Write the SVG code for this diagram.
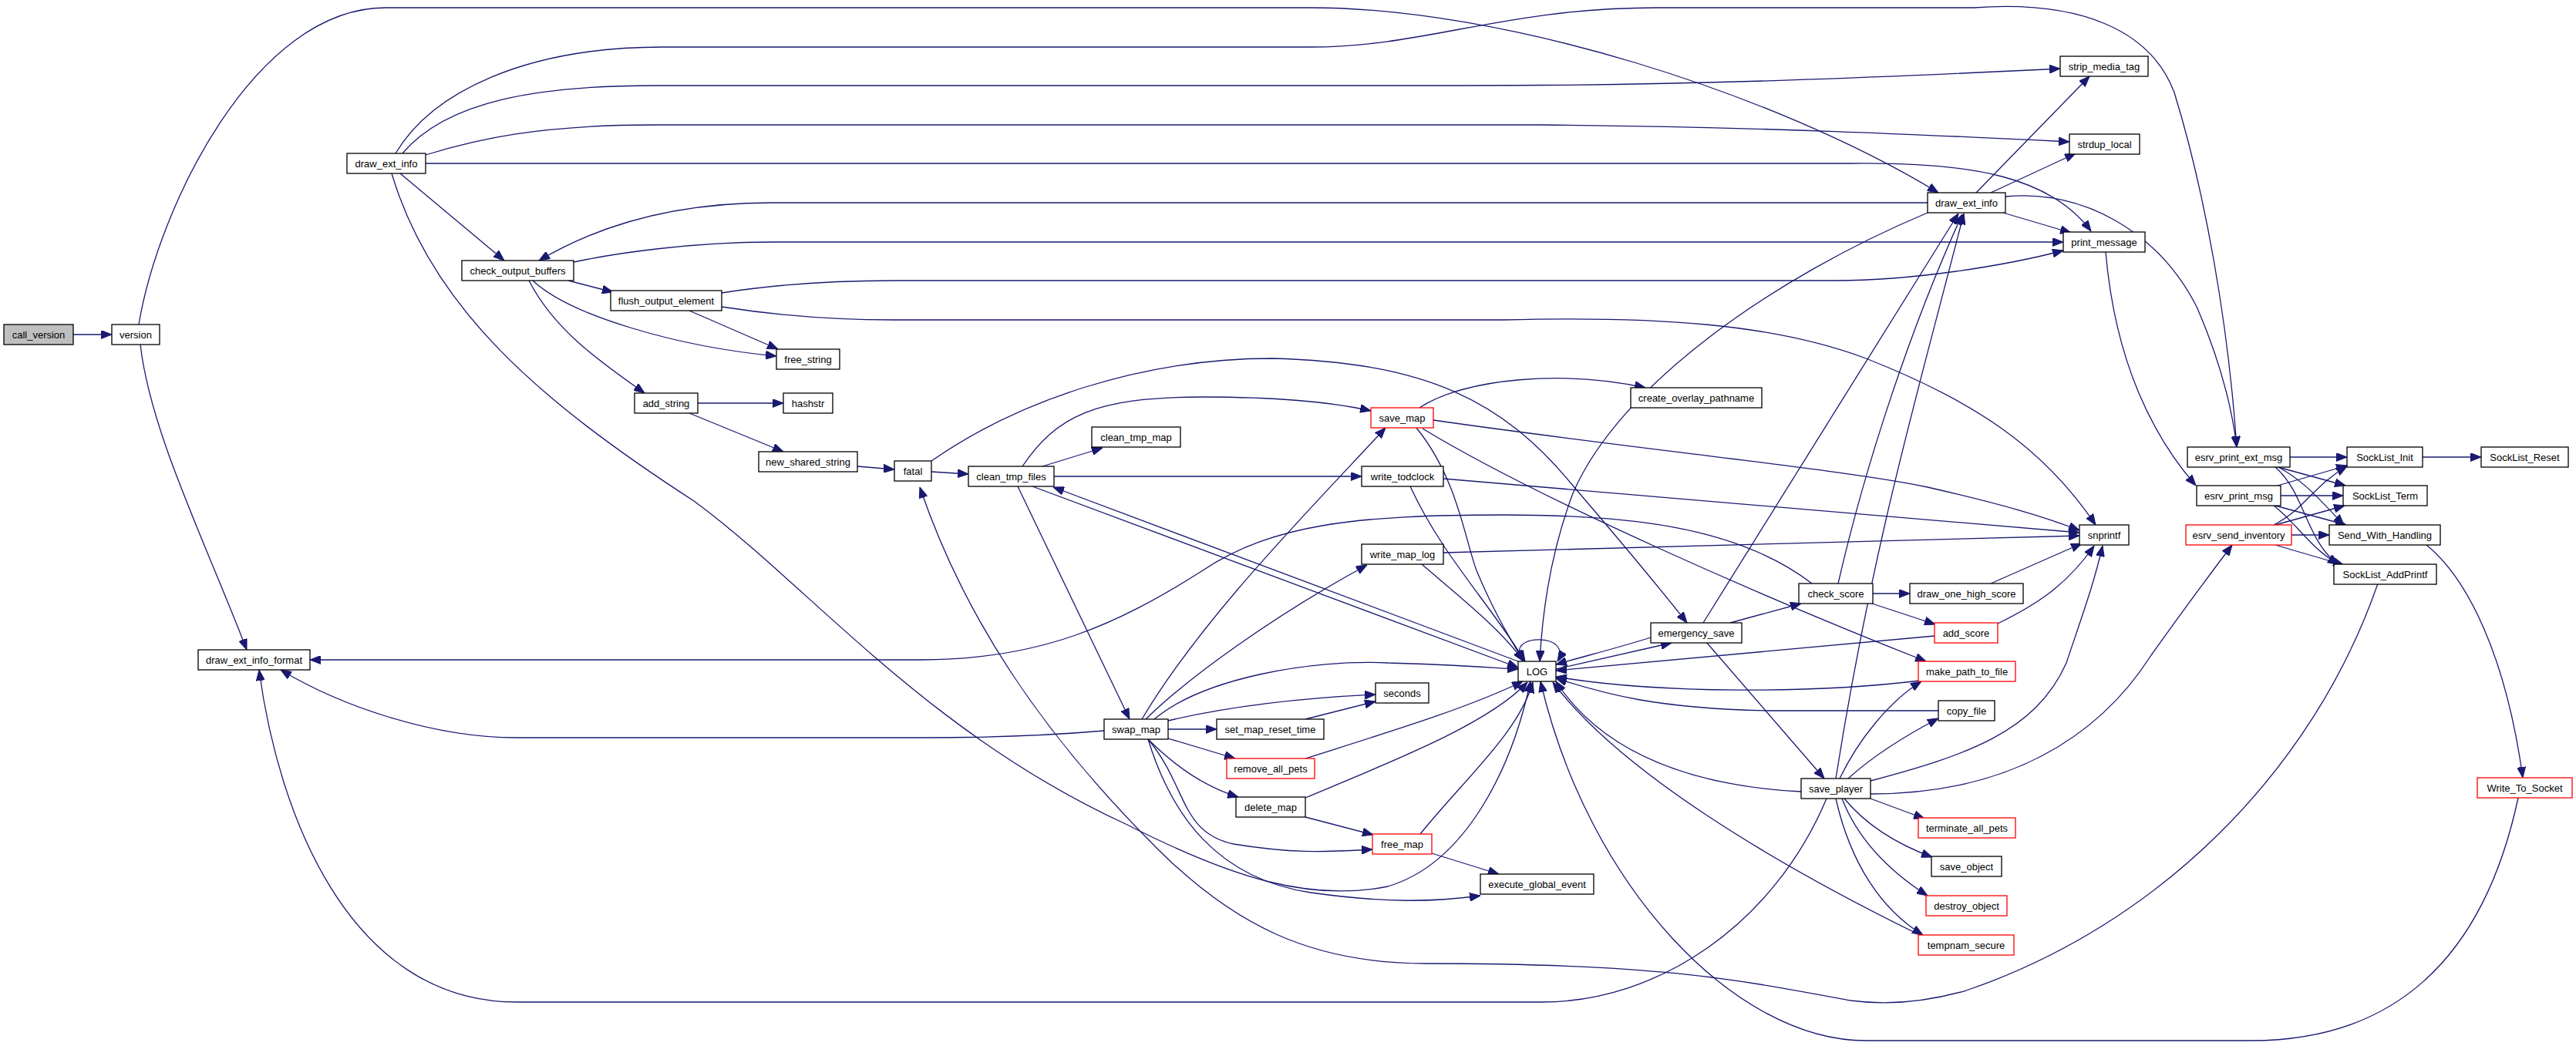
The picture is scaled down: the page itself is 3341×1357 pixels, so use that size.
<svg xmlns="http://www.w3.org/2000/svg" width="3341" height="1357" viewBox="0 0 3341 1357">
<style>
.node rect{fill:#ffffff;stroke:#000000;stroke-width:1.3}
.node.red rect{stroke:#ff0000}
.node.root rect{fill:#bfbfbf}
.node text{font-family:"Liberation Sans",Arial,sans-serif;font-size:13px;fill:#000000;text-anchor:middle}
.edges path{fill:none;stroke:#191970;stroke-width:1.3;marker-end:url(#ah)}
</style>
<defs>
<marker id="ah" markerWidth="14" markerHeight="11" refX="14" refY="5.5" orient="auto" markerUnits="userSpaceOnUse"><path d="M0,0 L14,5.5 L0,11 z" fill="#191970" stroke="#191970" stroke-width="1"/></marker>
</defs>
<rect width="3341" height="1357" fill="#ffffff"/>
<g class="edges" id="edges">
<path d="M95,434 L145,434"/>
<path d="M182,447 C195,560 265,700 320,843"/>
<path d="M180,421 C205,270 330,10 500,10 L1700,10 C1950,10 2300,120 2514,250"/>
<path d="M513,199 C560,120 680,61 860,61 L1700,61 C1850,61 1950,10 2150,10 L2560,10 C2700,0 2790,40 2820,120 C2860,250 2890,420 2901,580"/>
<path d="M522,199 C580,130 700,111 850,111 L1900,111 C2200,111 2450,100 2672,89"/>
<path d="M552,201 C620,180 700,162 850,162 L2000,162 C2300,165 2500,175 2684,184"/>
<path d="M552,212 L2400,212 C2560,210 2660,230 2712,300"/>
<path d="M519,225 L654,338"/>
<path d="M508,225 C560,400 700,520 900,650 C1050,760 1200,950 1462,1070 C1600,1140 1700,1170 1800,1150 C1900,1120 1960,1000 1985,884"/>
<path d="M1489,959 C1520,1060 1580,1140 1700,1158 C1800,1172 1860,1170 1920,1162"/>
<path d="M744,340 C800,328 900,314 1000,314 L2676,314"/>
<path d="M737,364 L795,379"/>
<path d="M691,364 C740,410 880,450 1007,462"/>
<path d="M686,364 C720,430 780,470 836,510"/>
<path d="M894,403 L1009,453"/>
<path d="M936,380 C1000,370 1080,364 1160,364 L2380,364 C2480,364 2600,345 2676,325"/>
<path d="M936,398 C1000,408 1080,415 1160,415 L1950,415 C2150,410 2300,420 2420,465 C2560,520 2650,580 2718,681"/>
<path d="M905,523 L1016,523"/>
<path d="M894,536 L1016,586"/>
<path d="M1112,605 L1160,609"/>
<path d="M1208,612 L1256,615"/>
<path d="M1208,598 C1320,520 1480,465 1650,465 C1850,470 1950,520 2040,630 C2100,700 2150,760 2188,808"/>
<path d="M1352,605 L1430,581"/>
<path d="M1367,618 L1766,618"/>
<path d="M1326,605 C1370,540 1420,515 1560,515 C1650,515 1720,520 1778,533"/>
<path d="M1320,631 L1465,933"/>
<path d="M1339,631 L1969,866"/>
<path d="M1969,858 L1366,632"/>
<path d="M1481,933 C1560,800 1700,660 1797,555"/>
<path d="M1486,933 C1540,880 1650,800 1773,733"/>
<path d="M1497,933 C1560,880 1700,855 1800,860 C1880,862 1930,866 1969,868"/>
<path d="M1515,935 C1600,915 1700,905 1784,901"/>
<path d="M1515,946 L1578,946"/>
<path d="M1515,958 L1602,984"/>
<path d="M1489,959 C1520,990 1560,1020 1606,1034"/>
<path d="M1489,959 C1540,1020 1530,1080 1600,1095 C1680,1108 1720,1105 1780,1102"/>
<path d="M1693,933 L1784,910"/>
<path d="M1693,984 C1800,950 1900,920 1975,884"/>
<path d="M1693,1035 C1800,990 1930,940 1981,885"/>
<path d="M1693,1060 L1781,1083"/>
<path d="M1842,1082 C1900,1010 1970,950 1988,885"/>
<path d="M1857,1107 L1944,1134"/>
<path d="M1837,555 C1890,620 1900,700 1915,740 C1940,800 1960,830 1976,858"/>
<path d="M1841,529 C1900,490 2030,480 2134,503"/>
<path d="M1859,545 C2100,580 2400,610 2500,632 C2600,655 2650,670 2697,688"/>
<path d="M1845,556 C2000,650 2300,780 2498,858"/>
<path d="M1829,631 C1870,720 1930,780 1978,858"/>
<path d="M1872,621 L2697,691"/>
<path d="M1844,732 C1900,780 1950,820 1976,858"/>
<path d="M1872,717 L2697,695"/>
<path d="M2500,276 C2300,360 2100,500 2040,640 C2010,720 2000,800 1997,858"/>
<path d="M2563,250 L2710,99"/>
<path d="M2582,250 L2692,199"/>
<path d="M2598,276 L2686,302"/>
<path d="M2500,263 L1000,263 C880,263 780,290 699,338"/>
<path d="M2601,255 C2700,245 2800,300 2850,400 C2880,470 2895,530 2901,580"/>
<path d="M2731,327 C2740,430 2770,540 2848,630"/>
<path d="M2970,593 L3044,593"/>
<path d="M2951,605 L3042,630"/>
<path d="M2955,606 C2990,625 3010,650 3040,681"/>
<path d="M2951,606 C2990,640 2990,700 3033,733"/>
<path d="M2954,630 L3044,604"/>
<path d="M2958,643 L3039,643"/>
<path d="M2951,656 L3043,681"/>
<path d="M2949,656 C2980,680 2995,710 3033,732"/>
<path d="M2949,681 C2990,660 3000,630 3044,605"/>
<path d="M2951,681 L3041,656"/>
<path d="M2972,694 L3021,694"/>
<path d="M2951,707 L3040,733"/>
<path d="M3142,593 L3218,593"/>
<path d="M3147,707 C3200,750 3250,850 3272,1009"/>
<path d="M3266,1035 C3220,1250 3100,1350 2920,1350 L2420,1350 C2250,1350 2060,1150 1998,884"/>
<path d="M3084,757 C3000,1000 2800,1200 2550,1285 C2480,1305 2430,1302 2400,1298 C2250,1270 2150,1250 1850,1250 C1700,1250 1600,1200 1500,1100 C1350,950 1250,800 1193,632"/>
<path d="M2369,1036 C2300,1200 2150,1300 2000,1300 L670,1300 C450,1300 360,1050 336,869"/>
<path d="M1432,948 C1350,955 1280,957 1200,957 L670,957 C560,957 440,915 364,869"/>
<path d="M2350,757 C2250,680 2100,668 1950,668 C1760,668 1650,680 1560,740 C1450,810 1350,856 1194,856 L402,856"/>
<path d="M2244,808 L2336,783"/>
<path d="M2213,833 L2366,1010"/>
<path d="M2209,808 L2540,277"/>
<path d="M2141,827 C2100,840 2060,850 2018,862"/>
<path d="M2018,868 L2168,834"/>
<path d="M2429,770 L2477,770"/>
<path d="M2428,783 L2510,810"/>
<path d="M2384,757 C2420,600 2480,420 2545,278"/>
<path d="M2582,757 L2700,705"/>
<path d="M2591,809 C2640,785 2680,760 2716,708"/>
<path d="M2509,825 L2018,870"/>
<path d="M2490,883 C2350,900 2150,900 2018,878"/>
<path d="M2514,922 L2300,922 C2150,920 2080,900 2018,880"/>
<path d="M2397,1010 C2430,980 2470,955 2514,932"/>
<path d="M2386,1010 C2410,960 2450,910 2492,884"/>
<path d="M2426,1013 C2550,980 2640,950 2680,860 C2700,800 2715,760 2727,708"/>
<path d="M2426,1030 C2600,1030 2720,960 2790,850 C2840,780 2870,740 2895,707"/>
<path d="M2336,1027 C2200,1020 2080,980 2018,884"/>
<path d="M2426,1036 L2496,1062"/>
<path d="M2392,1036 C2420,1070 2460,1095 2506,1112"/>
<path d="M2389,1036 C2410,1090 2450,1130 2500,1162"/>
<path d="M2381,1036 C2400,1120 2440,1180 2494,1213"/>
<path d="M2490,1213 C2300,1120 2100,1000 2014,885"/>
<path d="M2381,1010 C2430,700 2490,500 2547,277"/>
<path d="M1975,858 C1958,832 1992,826 2010,832 C2024,837 2026,848 2020,858"/>
</g>
<g class="node root" id="n_call_version"><rect x="5" y="421" width="90" height="26"/><text x="50" y="438.5">call_version</text></g>
<g class="node" id="n_version"><rect x="145" y="421" width="62" height="26"/><text x="176" y="438.5">version</text></g>
<g class="node" id="n_draw_ext_info_format"><rect x="257" y="843" width="145" height="26"/><text x="329.5" y="860.5">draw_ext_info_format</text></g>
<g class="node" id="n_draw_ext_info_l"><rect x="450" y="199" width="102" height="26"/><text x="501" y="216.5">draw_ext_info</text></g>
<g class="node" id="n_check_output_buffers"><rect x="599" y="338" width="145" height="26"/><text x="671.5" y="355.5">check_output_buffers</text></g>
<g class="node" id="n_flush_output_element"><rect x="792" y="377" width="144" height="26"/><text x="864" y="394.5">flush_output_element</text></g>
<g class="node" id="n_add_string"><rect x="823" y="510" width="82" height="26"/><text x="864" y="527.5">add_string</text></g>
<g class="node" id="n_free_string"><rect x="1007" y="453" width="82" height="26"/><text x="1048" y="470.5">free_string</text></g>
<g class="node" id="n_hashstr"><rect x="1016" y="510" width="64" height="26"/><text x="1048" y="527.5">hashstr</text></g>
<g class="node" id="n_new_shared_string"><rect x="984" y="586" width="128" height="26"/><text x="1048" y="603.5">new_shared_string</text></g>
<g class="node" id="n_fatal"><rect x="1160" y="598" width="48" height="26"/><text x="1184" y="615.5">fatal</text></g>
<g class="node" id="n_clean_tmp_files"><rect x="1256" y="605" width="111" height="26"/><text x="1311.5" y="622.5">clean_tmp_files</text></g>
<g class="node" id="n_clean_tmp_map"><rect x="1416" y="554" width="115" height="26"/><text x="1473.5" y="571.5">clean_tmp_map</text></g>
<g class="node" id="n_swap_map"><rect x="1432" y="933" width="83" height="26"/><text x="1473.5" y="950.5">swap_map</text></g>
<g class="node" id="n_set_map_reset_time"><rect x="1578" y="933" width="139" height="26"/><text x="1647.5" y="950.5">set_map_reset_time</text></g>
<g class="node red" id="n_remove_all_pets"><rect x="1591" y="984" width="114" height="26"/><text x="1648" y="1001.5">remove_all_pets</text></g>
<g class="node" id="n_delete_map"><rect x="1603" y="1034" width="90" height="26"/><text x="1648" y="1051.5">delete_map</text></g>
<g class="node red" id="n_save_map"><rect x="1778" y="529" width="81" height="26"/><text x="1818.5" y="546.5">save_map</text></g>
<g class="node" id="n_write_todclock"><rect x="1766" y="605" width="106" height="26"/><text x="1819" y="622.5">write_todclock</text></g>
<g class="node" id="n_write_map_log"><rect x="1766" y="706" width="106" height="26"/><text x="1819" y="723.5">write_map_log</text></g>
<g class="node" id="n_seconds"><rect x="1784" y="886" width="69" height="26"/><text x="1818.5" y="903.5">seconds</text></g>
<g class="node red" id="n_free_map"><rect x="1780" y="1082" width="77" height="26"/><text x="1818.5" y="1099.5">free_map</text></g>
<g class="node" id="n_LOG"><rect x="1969" y="858" width="49" height="26"/><text x="1993.5" y="875.5">LOG</text></g>
<g class="node" id="n_execute_global_event"><rect x="1920" y="1134" width="147" height="26"/><text x="1993.5" y="1151.5">execute_global_event</text></g>
<g class="node" id="n_create_overlay_pathname"><rect x="2115" y="503" width="170" height="26"/><text x="2200" y="520.5">create_overlay_pathname</text></g>
<g class="node" id="n_emergency_save"><rect x="2141" y="808" width="118" height="26"/><text x="2200" y="825.5">emergency_save</text></g>
<g class="node" id="n_check_score"><rect x="2333" y="757" width="96" height="26"/><text x="2381" y="774.5">check_score</text></g>
<g class="node" id="n_save_player"><rect x="2336" y="1010" width="90" height="26"/><text x="2381" y="1027.5">save_player</text></g>
<g class="node" id="n_draw_one_high_score"><rect x="2477" y="757" width="147" height="26"/><text x="2550.5" y="774.5">draw_one_high_score</text></g>
<g class="node" id="n_draw_ext_info_r"><rect x="2500" y="250" width="101" height="26"/><text x="2550.5" y="267.5">draw_ext_info</text></g>
<g class="node red" id="n_add_score"><rect x="2509" y="808" width="82" height="26"/><text x="2550" y="825.5">add_score</text></g>
<g class="node red" id="n_make_path_to_file"><rect x="2488" y="858" width="126" height="26"/><text x="2551" y="875.5">make_path_to_file</text></g>
<g class="node" id="n_copy_file"><rect x="2514" y="909" width="73" height="26"/><text x="2550.5" y="926.5">copy_file</text></g>
<g class="node red" id="n_terminate_all_pets"><rect x="2488" y="1061" width="126" height="26"/><text x="2551" y="1078.5">terminate_all_pets</text></g>
<g class="node" id="n_save_object"><rect x="2505" y="1111" width="91" height="26"/><text x="2550.5" y="1128.5">save_object</text></g>
<g class="node red" id="n_destroy_object"><rect x="2498" y="1162" width="105" height="26"/><text x="2550.5" y="1179.5">destroy_object</text></g>
<g class="node red" id="n_tempnam_secure"><rect x="2488" y="1213" width="124" height="26"/><text x="2550" y="1230.5">tempnam_secure</text></g>
<g class="node" id="n_snprintf"><rect x="2697" y="681" width="64" height="26"/><text x="2729" y="698.5">snprintf</text></g>
<g class="node" id="n_strip_media_tag"><rect x="2672" y="73" width="114" height="26"/><text x="2729" y="90.5">strip_media_tag</text></g>
<g class="node" id="n_strdup_local"><rect x="2684" y="174" width="91" height="26"/><text x="2729.5" y="191.5">strdup_local</text></g>
<g class="node" id="n_print_message"><rect x="2676" y="301" width="106" height="26"/><text x="2729" y="318.5">print_message</text></g>
<g class="node" id="n_esrv_print_ext_msg"><rect x="2837" y="580" width="133" height="26"/><text x="2903.5" y="597.5">esrv_print_ext_msg</text></g>
<g class="node" id="n_esrv_print_msg"><rect x="2849" y="630" width="109" height="26"/><text x="2903.5" y="647.5">esrv_print_msg</text></g>
<g class="node red" id="n_esrv_send_inventory"><rect x="2835" y="681" width="137" height="26"/><text x="2903.5" y="698.5">esrv_send_inventory</text></g>
<g class="node" id="n_SockList_Init"><rect x="3044" y="580" width="98" height="26"/><text x="3093" y="597.5">SockList_Init</text></g>
<g class="node" id="n_SockList_Term"><rect x="3039" y="630" width="109" height="26"/><text x="3093.5" y="647.5">SockList_Term</text></g>
<g class="node" id="n_Send_With_Handling"><rect x="3021" y="681" width="144" height="26"/><text x="3093" y="698.5">Send_With_Handling</text></g>
<g class="node" id="n_SockList_AddPrintf"><rect x="3027" y="732" width="133" height="26"/><text x="3093.5" y="749.5">SockList_AddPrintf</text></g>
<g class="node" id="n_SockList_Reset"><rect x="3218" y="580" width="113" height="26"/><text x="3274.5" y="597.5">SockList_Reset</text></g>
<g class="node red" id="n_Write_To_Socket"><rect x="3213" y="1009" width="123" height="26"/><text x="3274.5" y="1026.5">Write_To_Socket</text></g>
</svg>
